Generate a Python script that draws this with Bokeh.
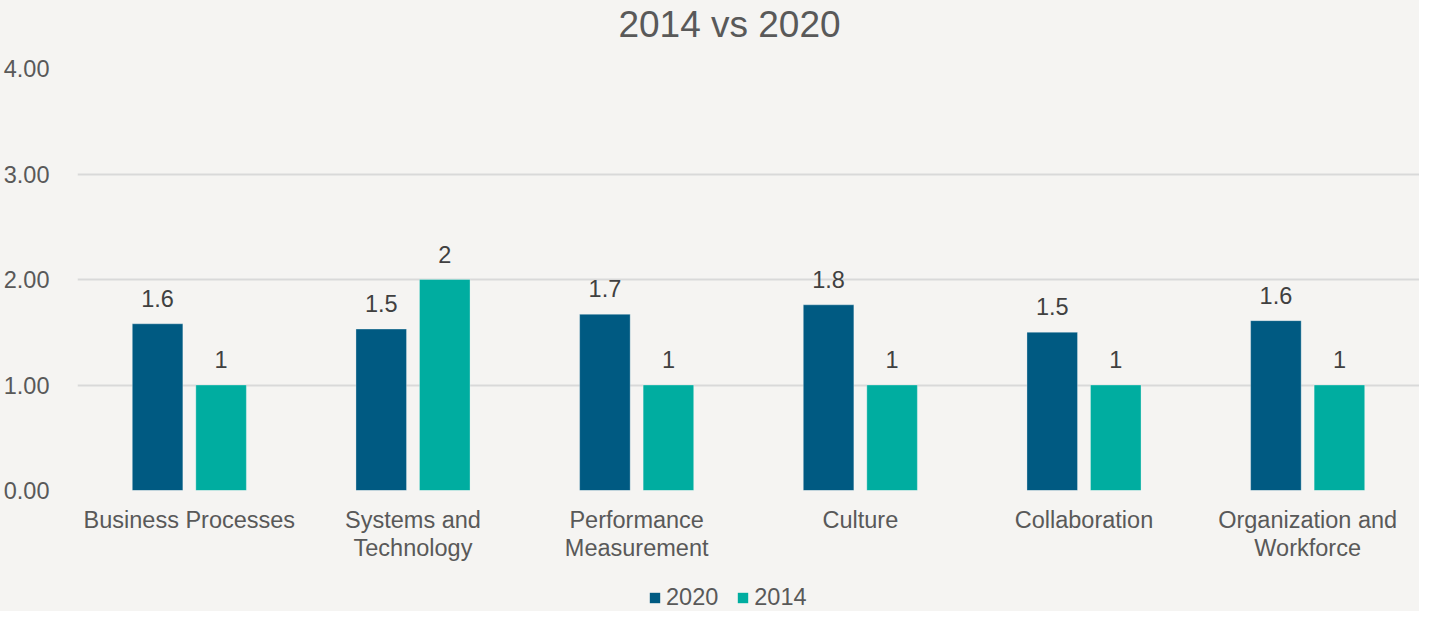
from bokeh.plotting import figure
from bokeh.layouts import column
from bokeh.models import (FactorRange, Range1d, ColumnDataSource, LabelSet, Legend,
                          LegendItem, FixedTicker, PrintfTickFormatter, Label)
from bokeh.core.properties import value
from bokeh.transform import dodge
from bokeh.embed import file_html
from bokeh.resources import INLINE

categories = ["Business Processes", "Systems and\nTechnology", "Performance\nMeasurement",
              "Culture", "Collaboration", "Organization and\nWorkforce"]
values_2020 = [1.58, 1.53, 1.67, 1.76, 1.50, 1.61]
values_2014 = [1.0, 2.0, 1.0, 1.0, 1.0, 1.0]
series = ["2020", "2014"]
y_ticks = [0, 1, 2, 3, 4]
title_text = "2014 vs 2020"

BG = "#F5F4F2"
C2020 = "#005A82"
C2014 = "#00ADA0"
FONT = "Liberation Sans"
W = 1419
LEFT = 74


def fmt(v):
    return f"{round(v, 1):g}"


def strip(h):
    s = figure(width=W, height=h, output_backend="svg", toolbar_location=None,
               x_range=Range1d(0, 1), y_range=Range1d(0, 1),
               background_fill_alpha=0, border_fill_color=BG, outline_line_color=None,
               min_border_left=LEFT, min_border_right=0, min_border_top=0, min_border_bottom=0)
    s.axis.visible = False
    s.grid.grid_line_color = None
    return s


src = ColumnDataSource(dict(
    cat=categories,
    v2020=values_2020,
    v2014=values_2014,
    l2020=[fmt(v) for v in values_2020],
    l2014=[fmt(v) for v in values_2014],
))

# title strip
ts = strip(48)
ts.add_layout(Label(x=652, y=24, x_units="screen", y_units="screen", text=title_text,
                    text_align="center", text_baseline="alphabetic",
                    text_font=FONT, text_font_size="37px", text_color="#595959"))

p = figure(x_range=FactorRange(*categories, range_padding=0), y_range=Range1d(0, 4),
           width=W, height=527, output_backend="svg", toolbar_location=None,
           background_fill_alpha=0, border_fill_color=BG, outline_line_color=None,
           min_border_left=LEFT, min_border_right=0, min_border_top=20, min_border_bottom=85)

off = 0.142
w = 0.226
r1 = p.vbar(x=dodge("cat", -off, range=p.x_range), top="v2020", width=w, source=src,
            fill_color=C2020, line_color="white", line_alpha=0.3, line_width=1)
r2 = p.vbar(x=dodge("cat", off, range=p.x_range), top="v2014", width=w, source=src,
            fill_color=C2014, line_color="white", line_alpha=0.3, line_width=1)

for field, top, d in (("l2020", "v2020", -off), ("l2014", "v2014", off)):
    p.add_layout(LabelSet(x=dodge("cat", d, range=p.x_range), y=top, text=field, source=src,
                          text_align="center", text_baseline="alphabetic", y_offset=17,
                          text_font=value(FONT), text_font_size=value("23.5px"),
                          text_color="#404040"))

# y axis
p.yaxis.ticker = FixedTicker(ticks=y_ticks)
p.yaxis.formatter = PrintfTickFormatter(format="%.2f")
p.yaxis.axis_line_color = None
p.yaxis.major_tick_line_color = None
p.yaxis.minor_tick_line_color = None
p.yaxis.major_label_standoff = 22
p.yaxis.major_label_text_font = FONT
p.yaxis.major_label_text_font_size = "23.5px"
p.yaxis.major_label_text_color = "#595959"

# x axis
p.xaxis.axis_line_color = None
p.xaxis.major_tick_line_color = None
p.xaxis.minor_tick_line_color = None
p.xaxis.major_label_standoff = 10
p.xaxis.major_label_text_font = FONT
p.xaxis.major_label_text_font_size = "23.5px"
p.xaxis.major_label_text_line_height = 1.08
p.xaxis.major_label_text_color = "#595959"

p.xgrid.grid_line_color = None
p.ygrid.grid_line_color = "#D9D9D9"
p.ygrid.grid_line_width = 2

# legend strip
lg = strip(36)
hidden = ColumnDataSource(dict(x=[-10.0], top=[-10.0]))
d1 = lg.vbar(x="x", top="top", width=0.1, source=hidden, fill_color=C2020, line_color=None)
d2 = lg.vbar(x="x", top="top", width=0.1, source=hidden, fill_color=C2014, line_color=None)
legend = Legend(items=[LegendItem(label=series[0], renderers=[d1]),
                       LegendItem(label=series[1], renderers=[d2])],
                orientation="horizontal", location=(571, 0),
                glyph_width=13, glyph_height=13, label_standoff=5, spacing=18,
                padding=0, margin=0, border_line_color=None, background_fill_alpha=0,
                label_text_font=FONT, label_text_font_size="23.5px",
                label_text_color="#595959", label_height=24)
lg.add_layout(legend, "center")

layout = column(ts, p, lg, spacing=0, styles={"background-color": BG})
open("out.html", "w").write(file_html(layout, INLINE))
